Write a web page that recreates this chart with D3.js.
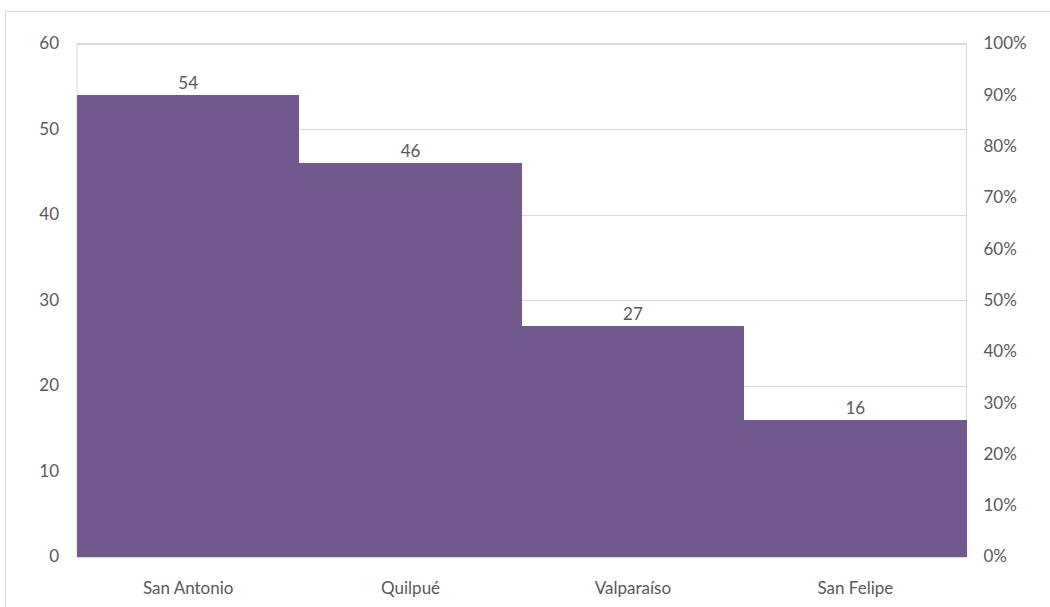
<!DOCTYPE html>
<html><head><meta charset="utf-8">
<script src="https://cdn.jsdelivr.net/npm/d3@7"></script>
<style>body{margin:0;background:#fff}svg{display:block}</style>
</head><body><svg id="c" width="1050" height="607"></svg>
<script>
const categories = ["San Antonio","Quilpué","Valparaíso","San Felipe"];
const values = [54,46,27,16];
const leftTicks = [0,10,20,30,40,50,60];
const rightTicks = [0,0.1,0.2,0.3,0.4,0.5,0.6,0.7,0.8,0.9,1.0];

const svg = d3.select("#c");
const m = {l:77, r:966.5, t:43.5, b:556.5};
const font = "Lato, 'Open Sans', sans-serif";
const txt = "#595959";
const fs = 17;

svg.append("rect").attr("x",5.5).attr("y",11.5).attr("width",1100).attr("height",700)
  .attr("fill","none").attr("stroke","#d9d9d9");

const x = d3.scaleBand().domain(categories).range([m.l,m.r]).padding(0);
const y = d3.scaleLinear().domain([0,60]).range([m.b,m.t]);
const y2 = d3.scaleLinear().domain([0,1]).range([m.b,m.t]);

svg.append("g").selectAll("line").data(leftTicks).join("line")
  .attr("x1",m.l).attr("x2",m.r).attr("y1",d=>Math.round(y(d))+0.5).attr("y2",d=>Math.round(y(d))+0.5)
  .attr("stroke","#d9d9d9");
svg.append("rect").attr("x",m.l).attr("y",m.t).attr("width",m.r-m.l).attr("height",m.b-m.t)
  .attr("fill","none").attr("stroke","#d9d9d9");

svg.append("g").attr("shape-rendering","crispEdges").selectAll("rect").data(categories).join("rect")
  .attr("x",d=>Math.round(x(d))).attr("width",d=>Math.round(x(d)+x.bandwidth())-Math.round(x(d)))
  .attr("y",(d,i)=>Math.round(y(values[i]))).attr("height",(d,i)=>Math.round(y(0))-Math.round(y(values[i])))
  .attr("fill","#71598d");

svg.append("g").selectAll("text").data(categories).join("text")
  .attr("x",d=>x(d)+x.bandwidth()/2).attr("y",(d,i)=>y(values[i])-6)
  .attr("text-anchor","middle").attr("font-family",font).attr("font-size",fs).attr("fill",txt)
  .text((d,i)=>values[i]);

const la = d3.axisLeft(y).tickValues(leftTicks).tickSize(0).tickPadding(18);
const gl = svg.append("g").attr("transform",`translate(${m.l},0)`).call(la);
const ra = d3.axisRight(y2).tickValues(rightTicks).tickSize(0).tickPadding(17).tickFormat(d3.format(".0%"));
const gr = svg.append("g").attr("transform",`translate(${m.r},0)`).call(ra);
const ba = d3.axisBottom(x).tickSize(0).tickPadding(25);
const gb = svg.append("g").attr("transform",`translate(0,${m.b})`).call(ba);
[gl,gr,gb].forEach(g=>{
  g.select(".domain").remove();
  g.selectAll("text").attr("font-family",font).attr("font-size",fs).attr("fill",txt);
});
</script></body></html>
